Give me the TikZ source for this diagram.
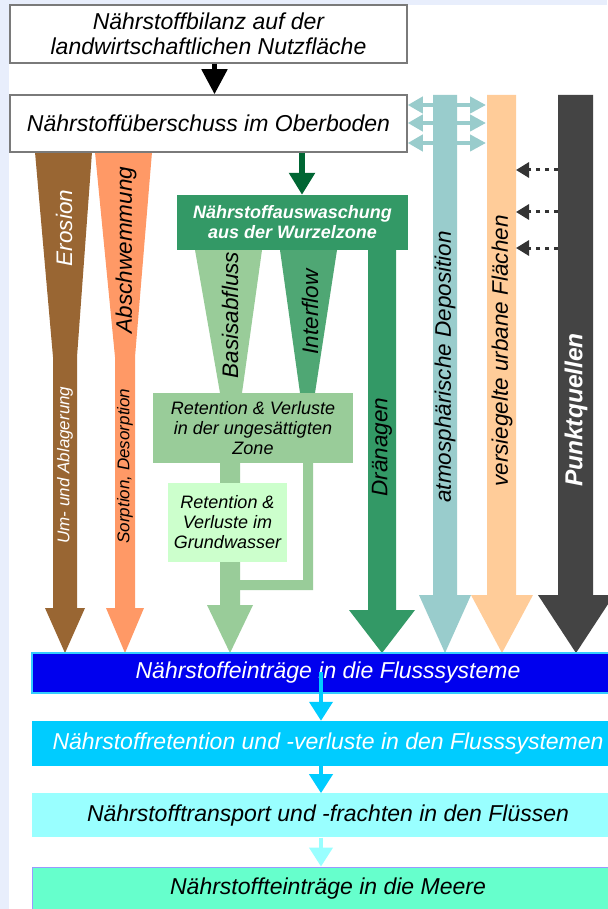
\documentclass[tikz,border=0pt]{standalone}
\usepackage{fontspec}
\setmainfont{Liberation Sans}
\usetikzlibrary{arrows.meta,positioning}
\definecolor{bgblue}{HTML}{E8EEFC}
\definecolor{boxgrey}{HTML}{7A7A7A}
\definecolor{erosion}{HTML}{996633}
\definecolor{abschw}{HTML}{FF9966}
\definecolor{basis}{HTML}{99CC99}
\definecolor{interflow}{HTML}{4FA774}
\definecolor{auswasch}{HTML}{339966}
\definecolor{darkgreen}{HTML}{006633}
\definecolor{grundwasser}{HTML}{CCFFCC}
\definecolor{deposition}{HTML}{99CCCC}
\definecolor{urban}{HTML}{FFCC99}
\definecolor{punkt}{HTML}{444444}
\definecolor{leakgrey}{HTML}{333333}
\definecolor{fluss}{HTML}{0000EE}
\definecolor{flussrand}{HTML}{33CCFF}
\definecolor{cyanbox}{HTML}{00CCFF}
\definecolor{lightcyan}{HTML}{99FFFF}
\definecolor{meer}{HTML}{66FFCC}
\definecolor{meerrand}{HTML}{9999FF}
\tikzset{
	box/.style = {draw=boxgrey, line width=1.5pt, fill=white, align=center,
		inner sep=0pt, font=\fontsize{23}{25}\selectfont\itshape},
	flowbox/.style = {minimum width=592pt, align=center, inner sep=0pt,
		font=\fontsize{23}{25}\selectfont\itshape},
	greenbox/.style = {align=center, inner sep=0pt,
		font=\fontsize{18}{20}\selectfont\itshape},
	collabel/.style = {rotate=90, inner sep=0pt,
		font=\fontsize{22.5}{24}\selectfont\itshape},
	smalllabel/.style = {rotate=90, inner sep=0pt,
		font=\fontsize{17}{19}\selectfont\itshape},
	bigarrow/.style = {line width=5pt, -{Triangle[length=25pt,width=25pt]}},
	flowarrow/.style = {line width=4pt, -{Triangle[length=19pt,width=23pt]}},
	exchange/.style = {deposition, line width=4.5pt,
		{Triangle[length=15pt,width=16pt]}-{Triangle[length=16pt,width=16pt]}},
	leak/.style = {leakgrey, line width=3pt, dash pattern=on 4pt off 5pt,
		-{Triangle[length=13pt,width=15pt]}}
}
\begin{document}
\begin{tikzpicture}[x=1pt,y=-1pt]
\useasboundingbox (0,0) rectangle (607,909);
\fill[bgblue] (0,0) rectangle (607,909);
\fill[white] (9,5) rectangle (607,909);

\fill[erosion] (35,152) -- (92,152) -- (77,357) -- (77,608) -- (85,608) -- (65,653)
	-- (45,608) -- (53,608) -- (53,357) -- cycle;
\fill[abschw] (95,152) -- (152,152) -- (135,357) -- (135,608) -- (144,608) -- (125,653)
	-- (106,608) -- (115,608) -- (115,357) -- cycle;
\fill[basis] (195,250) -- (262,250) -- (242,393) -- (220,393) -- cycle;
\fill[interflow] (280,250) -- (337,250) -- (315,393) -- (300,393) -- cycle;
\fill[basis] (220,463) -- (240,463) -- (240,605) -- (253,605) -- (230,653) -- (207,605)
	-- (220,605) -- cycle;
\fill[basis] (303,463) -- (313,463) -- (313,590) -- (240,590) -- (240,580) -- (303,580) -- cycle;
\fill[auswasch] (368,250) -- (396,250) -- (396,610) -- (415,610) -- (382,653) -- (349,610)
	-- (368,610) -- cycle;
\fill[deposition] (433,95) -- (457,95) -- (457,595) -- (471,595) -- (445,653) -- (419,595)
	-- (433,595) -- cycle;
\fill[urban] (487,95) -- (516,95) -- (516,595) -- (533,595) -- (502,653) -- (471,595)
	-- (487,595) -- cycle;
\fill[punkt] (558,95) -- (593,95) -- (593,595) -- (614,595) -- (576,653) -- (538,595)
	-- (558,595) -- cycle;

\node[box, minimum width=397pt, minimum height=58pt] (bilanz) at (208.5,34)
	{Nährstoffbilanz auf der\\landwirtschaftlichen Nutzfläche};
\node[box, minimum width=397pt, minimum height=57pt] (ueberschuss) at (208.5,123.5)
	{Nährstoffüberschuss im Oberboden};
\draw[bigarrow] ([xshift=6pt]bilanz.south) -- ([xshift=6pt]ueberschuss.north);

\node[greenbox, fill=auswasch, text=white, font=\fontsize{18}{20}\selectfont\bfseries\itshape,
	minimum width=231pt, minimum height=55pt] (auswaschung) at (292.5,222.5)
	{Nährstoffauswaschung\\aus der Wurzelzone};
\draw[darkgreen, line width=6pt, -{Triangle[length=22pt,width=25pt]}]
	([xshift=93.5pt]ueberschuss.south) -- ([xshift=9.5pt]auswaschung.north);
\node[greenbox, fill=basis, minimum width=200pt, minimum height=70pt] (ungesaettigt)
	at (253,428) {Retention \& Verluste\\in der ungesättigten\\Zone};
\node[greenbox, fill=grundwasser, minimum width=119pt, minimum height=79pt] (grundwasser)
	at (227.5,522.5) {Retention \&\\Verluste im\\Grundwasser};

\coordinate (urbanedge) at (486,123.5);
\foreach \s in {18.5,0.5,-19.5}
	\draw[exchange] ([yshift=\s pt]ueberschuss.east) -- ([yshift=\s pt]urbanedge);
\coordinate (punktedge) at (558,170);
\coordinate (urbanright) at (516,170);
\foreach \d in {0,42,78}
	\draw[leak] ([yshift=-\d pt]punktedge) -- ([yshift=-\d pt]urbanright);

\node[collabel, text=white] (erosionlabel) at (64,228) {Erosion};
\node[collabel] (abschwlabel) at (126,250) {Abschwemmung};
\node[smalllabel, text=white] (ablagerung) at (65,465) {Um- und Ablagerung};
\node[smalllabel] (sorption) at (125,466) {Sorption, Desorption};
\node[collabel] (basislabel) at (230,315) {Basisabfluss};
\node[collabel] (interlabel) at (310,312) {Interflow};
\node[collabel] (draenlabel) at (382,447) {Dränagen};
\node[collabel] (deplabel) at (445,367) {atmosphärische Deposition};
\node[collabel] (urbanlabel) at (502,351) {versiegelte urbane Flächen};
\node[collabel, text=white, font=\fontsize{24.5}{26}\selectfont\bfseries\itshape]
	(punktlabel) at (576,410) {Punktquellen};

\node[flowbox, fill=fluss, draw=flussrand, line width=1.5pt, text=white,
	minimum height=40pt] (eintraege) at (328,673) {Nährstoffeinträge in die Flusssysteme};
\node[flowbox, fill=cyanbox, text=white, minimum height=45pt, below=27pt of eintraege]
	(retention) {Nährstoffretention und -verluste in den Flusssystemen};
\node[flowbox, fill=lightcyan, minimum height=44pt, below=27pt of retention]
	(transport) {Nährstofftransport und -frachten in den Flüssen};
\node[flowbox, fill=meer, draw=meerrand, line width=1pt, minimum height=43pt,
	below=29pt of transport] (meere) {Nährstoffteinträge in die Meere};
\draw[flowarrow, cyanbox] ([xshift=-7pt,yshift=1pt]eintraege.center)
	-- ([xshift=-7pt]retention.north);
\draw[flowarrow, cyanbox] ([xshift=-7pt]retention.south) -- ([xshift=-7pt]transport.north);
\draw[flowarrow, lightcyan] ([xshift=-7pt]transport.south) -- ([xshift=-7pt]meere.north);
\end{tikzpicture}
\end{document}
